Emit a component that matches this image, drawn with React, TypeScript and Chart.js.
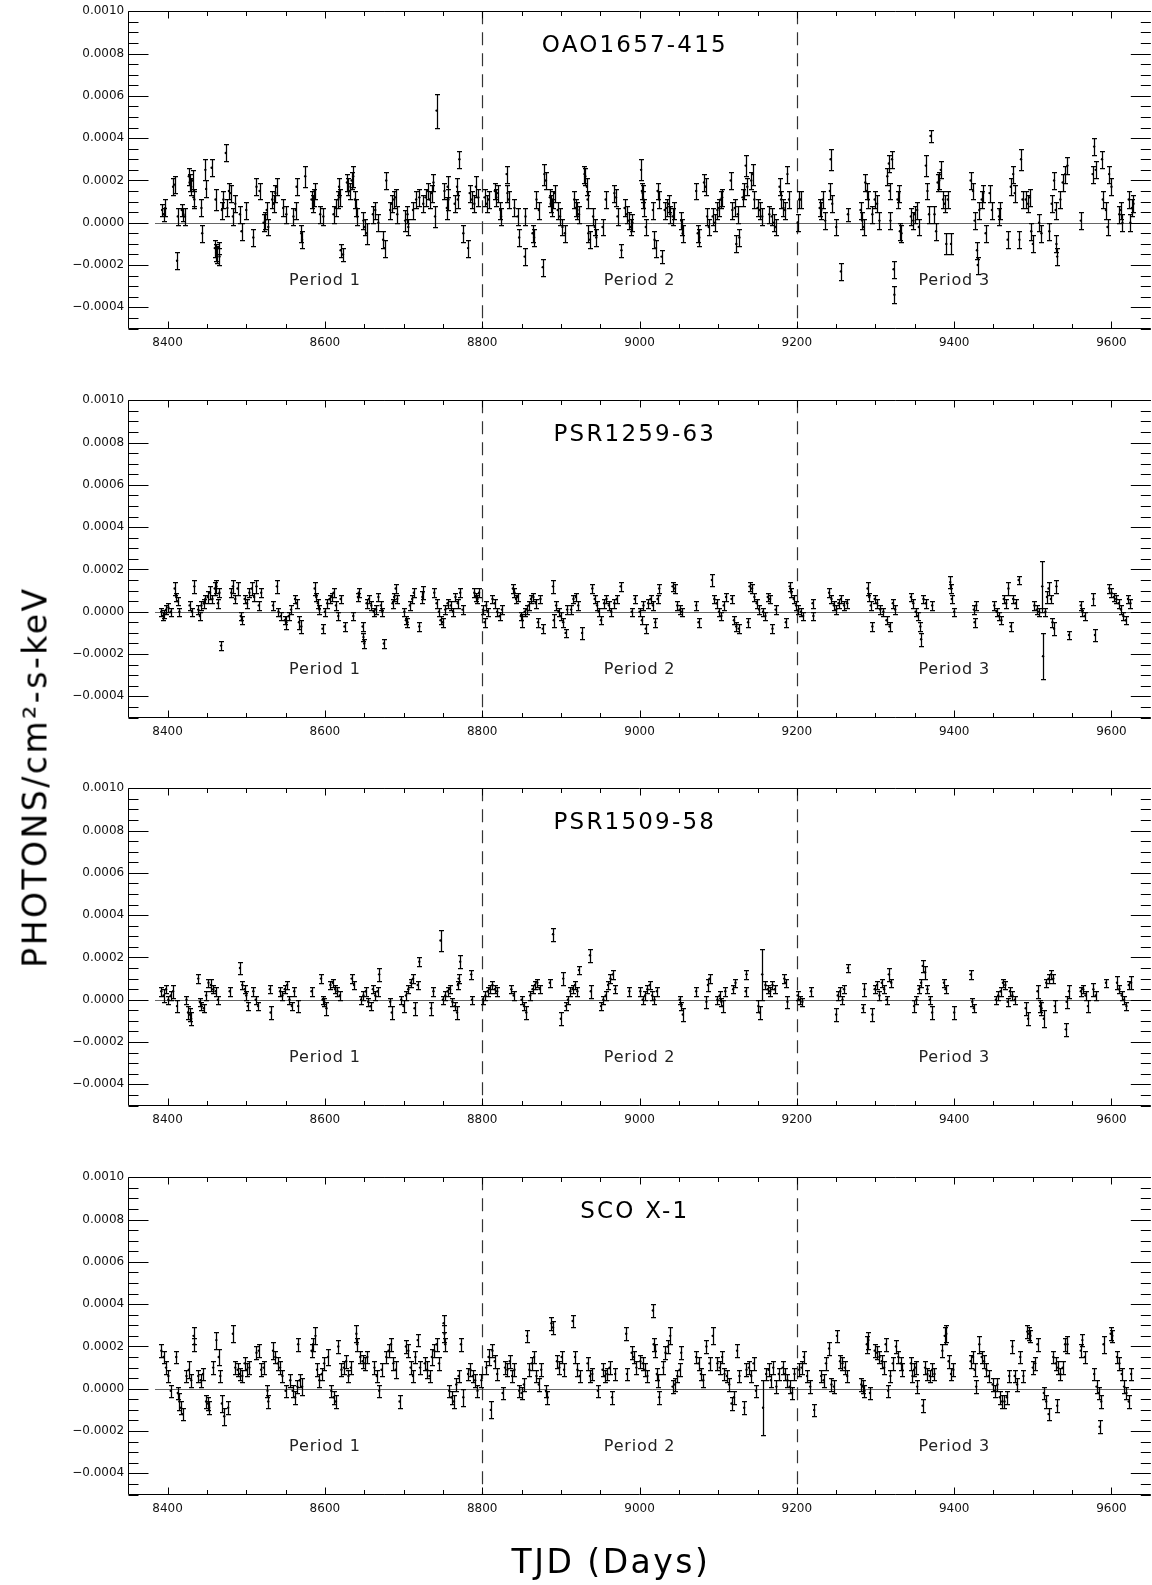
import React, { useEffect, useRef } from "react";
import { Chart, registerables } from "chart.js";

Chart.register(...registerables);

// [TJD day, flux (units of 1e-5 photons/cm^2-s-keV), 1-sigma error (same units)]
type Pt = [number, number, number];

const OAO1657_POINTS: Pt[] = [
  [8393,6,3],[8395,4,3],[8397,7,4],[8407,17,4],[8409,18,4],[8412,-18,4],[8413,3,4],
  [8418,6,3],[8420,4,3],[8422,3,4],[8427,22,4],[8428,19,4],[8430,17,4],[8432,20,5],[8433,12,4],[8434,11,4],
  [8443,7,4],[8444,-5,4],[8448,25,5],[8449,16,4],[8456,26,4],
  [8460,-12,4],[8461,11,5],[8462,-14,4],[8463,-15,4],[8465,-12,3],[8466,-16,4],[8469,6,4],[8474,33,4],
  [8471,11,4],[8476,7,4],[8478,15,4],[8480,14,4],[8483,3,4],[8486,9,4],
  [8492,4,4],[8494,-4,4],[8500,6,4],[8509,-7,4],[8513,17,4],[8517,15,4],
  [8522,0,4],[8524,1,4],[8526,6,4],[8528,-2,4],[8533,11,4],[8535,9,4],[8537,14,4],[8539,17,4],
  [8547,7,4],[8551,4,4],[8560,3,4],[8563,6,4],[8564,17,4],[8575,22,5],[8570,-5,4],[8571,-8,4],
  [8583,11,4],[8585,9,4],[8586,12,4],[8587,15,4],[8594,4,4],[8598,3,4],
  [8611,4,4],[8614,7,4],[8617,11,4],[8619,12,4],[8620,-13,3],[8623,-15,3],[8618,17,4],
  [8628,19,4],[8630,17,4],[8632,15,4],[8634,20,4],[8636,22,5],[8638,11,4],[8640,7,4],[8641,3,4],
  [8649,1,4],[8651,-2,4],[8653,-5,5],[8661,4,4],[8664,6,4],[8668,0,4],
  [8674,-8,4],[8676,-12,4],[8678,20,4],[8683,6,4],[8685,9,4],[8688,11,4],[8690,12,4],[8692,4,4],
  [8702,1,5],[8705,4,4],[8706,-2,4],[8712,6,4],[8716,11,4],[8720,12,4],
  [8725,9,4],[8728,12,4],[8731,15,4],[8733,11,4],[8736,14,4],[8738,19,4],[8740,3,5],[8742,53,8],
  [8752,15,4],[8755,7,5],[8757,11,5],[8756,17,5],[8765,9,4],[8768,17,4],[8769,11,4],[8771,30,4],
  [8776,-5,4],[8782,-12,4],[8784,14,4],[8787,11,4],[8790,9,4],[8792,17,5],[8795,12,4],
  [8803,12,4],[8806,9,4],[8808,11,4],[8816,15,4],[8818,12,4],[8820,14,4],[8823,6,4],[8824,3,4],
  [8831,23,4],[8832,14,4],[8834,11,4],[8841,7,4],[8845,3,4],[8847,-7,4],
  [8854,-16,4],[8855,3,4],[8864,-5,4],[8866,-7,4],[8869,11,4],[8872,6,4],[8877,-21,4],
  [8879,23,5],[8881,20,4],[8886,12,4],[8887,9,4],[8889,7,4],[8890,11,4],[8892,14,4],
  [8896,6,4],[8899,3,4],[8902,-2,4],[8905,-5,4],[8917,11,4],[8919,7,4],[8921,6,4],[8923,4,4],
  [8930,23,4],[8931,22,4],[8933,17,4],[8934,11,4],[8935,-5,4],[8937,-8,4],
  [8941,3,4],[8943,-2,4],[8945,-7,4],[8953,-2,4],[8957,11,4],[8968,14,4],[8970,12,4],[8972,3,4],
  [8977,-13,3],[8981,7,4],[8984,4,4],[8986,1,4],[8989,-2,4],[8991,0,4],
  [9002,25,5],[9003,15,4],[9004,14,4],[9005,11,4],[9006,7,4],[9008,-2,4],
  [9017,6,4],[9019,-8,4],[9021,-12,4],[9023,15,4],[9025,11,4],[9028,-16,3],
  [9032,6,4],[9035,7,4],[9037,9,4],[9039,4,4],[9042,3,4],[9044,6,4],[9053,1,4],[9054,-2,4],[9055,-5,4],
  [9072,15,4],[9074,-5,4],[9076,-7,4],[9082,19,4],[9084,17,4],[9086,3,4],[9088,-2,4],
  [9093,3,4],[9096,0,4],[9099,6,4],[9101,7,4],[9103,11,4],[9105,12,4],[9116,20,4],[9118,6,4],
  [9121,7,4],[9123,-10,4],[9125,4,4],[9127,-7,4],[9131,12,4],[9133,15,4],[9135,27,5],[9137,17,4],
  [9142,20,4],[9144,23,5],[9146,11,4],[9150,7,4],[9153,6,4],[9156,3,4],
  [9165,4,4],[9168,3,4],[9171,0,4],[9173,-2,4],[9178,17,4],[9180,11,4],[9183,7,4],[9185,6,4],
  [9188,23,4],[9190,11,4],[9201,0,4],[9203,11,4],[9205,11,4],
  [9229,7,4],[9231,6,4],[9233,11,4],[9236,1,4],[9243,30,5],[9242,15,4],[9245,9,4],[9250,-2,4],
  [9256,-23,4],[9265,4,3],[9281,6,4],[9283,1,4],[9285,-2,4],[9287,19,4],[9289,15,4],[9291,11,4],
  [9296,4,4],[9299,11,4],[9302,9,4],[9305,1,4],[9315,22,4],[9317,28,4],[9318,15,4],[9319,1,4],
  [9321,30,4],[9323,-22,4],[9324,-34,4],[9328,11,4],[9330,14,4],[9331,-4,4],[9333,-5,4],
  [9345,3,4],[9348,1,4],[9350,4,4],[9353,6,4],[9355,-2,4],[9364,27,5],[9366,15,4],[9368,4,4],
  [9370,41,3],[9375,4,4],[9377,-4,4],[9379,19,4],[9381,20,4],[9383,25,4],
  [9386,11,4],[9388,9,4],[9390,-10,5],[9392,11,4],[9396,-10,5],
  [9421,20,4],[9424,15,4],[9426,1,4],[9429,-13,4],[9430,-20,4],[9432,6,4],[9435,11,4],[9437,14,4],[9440,-5,4],
  [9445,14,4],[9448,6,4],[9457,3,4],[9458,6,4],[9468,-8,4],[9472,17,4],[9475,23,4],[9477,14,4],
  [9483,-8,4],[9485,30,5],[9487,11,4],[9491,11,4],[9494,9,4],[9496,12,4],[9498,-4,4],[9500,-10,4],
  [9508,0,4],[9511,-5,4],[9521,-4,4],[9524,9,4],[9527,20,4],[9529,6,4],[9530,-10,4],[9531,-16,4],
  [9535,11,4],[9538,19,4],[9541,23,4],[9544,27,4],[9561,1,4],[9576,23,4],[9578,36,4],[9580,25,4],
  [9588,30,4],[9589,11,4],[9593,6,4],[9595,-2,4],[9597,23,4],[9600,17,4],
  [9610,4,4],[9612,6,4],[9614,0,4],[9622,11,4],[9624,0,4],[9626,7,4],[9628,9,4],
];

const PSR1259_POINTS: Pt[] = [
  [8392,0,2],[8394,-2,2],[8396,-1,2],[8398,1,2],[8401,2,2],[8404,0,2],[8409,11,3],[8411,7,2],[8413,5,2],
  [8415,0,2],[8428,3,2],[8431,0,2],[8434,12,3],[8439,1,2],[8441,-2,2],[8443,3,2],[8446,4,2],
  [8448,6,2],[8451,7,3],[8454,9,3],[8457,6,2],[8460,11,3],[8462,12,3],[8464,4,2],[8466,9,2],[8468,-16,2],
  [8481,9,2],[8483,12,3],[8486,6,2],[8489,11,3],[8493,-2,2],[8494,-4,2],
  [8498,6,2],[8501,4,2],[8504,9,2],[8507,11,3],[8510,7,2],[8513,12,3],[8516,3,2],[8519,9,2],
  [8534,3,2],[8539,12,3],[8541,0,2],[8544,-2,2],[8549,-4,2],[8551,-5,3],[8554,-2,2],[8557,1,2],
  [8562,6,2],[8564,4,2],[8567,-5,3],[8570,-7,3],[8587,11,3],[8589,7,2],[8591,4,2],[8593,1,2],[8597,-8,2],
  [8600,0,2],[8603,4,2],[8606,6,2],[8609,7,2],[8611,9,2],[8614,3,2],[8617,-2,2],[8620,6,2],[8625,-7,2],
  [8636,-2,2],[8642,7,2],[8643,9,2],[8648,-7,2],[8649,-12,2],[8650,-15,2],
  [8653,4,2],[8656,6,2],[8659,3,2],[8662,0,2],[8665,1,2],[8668,7,2],[8671,3,2],[8673,0,2],[8675,-15,2],
  [8686,4,2],[8688,7,2],[8690,11,2],[8692,6,2],[8701,0,2],[8703,-4,2],[8705,-5,2],[8708,3,2],[8711,6,2],[8713,9,2],
  [8720,-7,2],[8724,7,3],[8725,9,3],[8739,9,2],[8742,4,2],[8745,0,2],[8747,-4,2],[8750,-5,2],[8753,1,2],[8756,4,2],
  [8760,3,2],[8763,0,2],[8766,7,2],[8769,4,2],[8772,9,2],[8775,1,2],[8790,9,2],[8792,7,2],[8794,6,2],[8796,9,2],
  [8801,1,2],[8803,-5,2],[8805,3,2],[8807,0,2],[8813,6,2],[8816,4,2],[8819,0,2],[8822,-2,2],[8825,1,2],
  [8839,11,2],[8841,9,2],[8843,6,2],[8845,7,2],[8849,-2,2],[8851,-4,3],[8854,0,2],[8857,1,2],
  [8859,3,2],[8862,6,2],[8865,7,2],[8868,4,2],[8871,-5,2],[8874,6,2],[8877,-8,2],[8890,12,3],[8891,-4,3],
  [8894,3,2],[8897,0,2],[8900,-2,2],[8903,-5,2],[8906,-10,2],[8908,1,2],[8913,1,2],[8916,6,2],[8919,7,2],[8922,3,2],[8927,-10,3],
  [8940,11,2],[8943,6,2],[8946,3,2],[8948,0,2],[8951,-4,2],[8955,4,2],[8958,6,2],[8961,3,2],[8964,0,2],[8968,4,2],[8971,6,2],[8976,12,2],
  [8990,0,2],[8994,6,2],
  [9000,0,2],[9003,-4,2],[9005,3,2],[9008,-8,2],[9011,4,2],[9014,6,2],[9017,3,2],[9020,-5,2],[9023,6,2],[9025,11,2],
  [9042,12,2],[9045,11,2],[9048,3,2],[9051,1,2],[9054,0,2],[9072,3,2],[9075,-5,2],
  [9092,15,3],[9095,6,2],[9098,4,2],[9101,0,2],[9104,-2,2],[9107,3,2],[9110,7,2],[9117,6,2],[9120,-4,2],[9123,-7,2],[9126,-8,2],
  [9138,-5,2],[9140,12,2],[9143,11,2],[9146,7,2],[9149,4,2],[9152,1,2],[9157,0,2],[9160,-2,2],[9163,7,2],[9166,6,2],[9169,-8,2],[9173,1,2],
  [9186,-5,2],[9191,12,2],[9193,9,2],[9196,6,2],[9199,3,2],[9202,1,2],[9205,0,2],[9208,-2,2],[9220,4,2],[9221,-2,2],
  [9241,9,2],[9244,6,2],[9247,3,2],[9250,1,2],[9253,4,2],[9256,6,2],[9260,3,2],[9264,4,2],
  [9290,11,3],[9292,7,2],[9294,3,2],[9296,-7,2],[9299,6,2],[9302,4,2],[9306,1,2],[9310,0,2],[9314,-4,2],[9318,-7,2],[9322,4,2],[9325,1,2],
  [9345,7,2],[9348,4,2],[9351,0,2],[9354,-2,2],[9357,-7,2],[9358,-13,3],[9361,6,2],[9364,4,2],[9372,3,2],
  [9395,14,3],[9396,11,2],[9397,6,2],[9400,0,2],[9425,1,2],[9426,-5,2],[9428,3,2],
  [9451,3,2],[9454,0,2],[9457,-2,2],[9460,-4,2],[9463,6,2],[9466,4,2],[9469,11,3],[9472,-7,2],[9475,6,2],[9478,4,2],[9482,15,2],
  [9502,3,2],[9505,1,2],[9508,0,2],[9512,12,12],[9513,-21,11],[9516,0,2],[9518,7,3],[9520,11,3],[9523,6,2],[9525,-5,2],[9527,-8,3],[9530,12,3],
  [9546,-11,2],[9561,3,2],[9563,0,2],[9566,-2,2],[9577,6,3],[9579,-11,3],
  [9597,11,2],[9600,9,2],[9603,7,2],[9606,6,2],[9609,4,2],[9612,1,2],[9615,-2,2],[9618,-4,2],[9621,6,2],[9624,4,2],
];

const PSR1509_POINTS: Pt[] = [
  [8392,4,2],[8395,2,3],[8398,5,2],[8401,0,2],[8404,2,2],[8407,4,3],[8412,-3,3],
  [8424,0,2],[8426,-6,3],[8428,-7,3],[8430,-9,3],[8439,10,2],[8441,-1,2],[8443,-3,2],[8446,-4,2],[8449,2,2],
  [8452,8,2],[8455,7,3],[8458,5,2],[8461,4,2],[8464,0,2],[8479,4,2],[8492,15,3],
  [8495,7,2],[8498,5,2],[8500,2,2],[8502,-3,2],[8509,4,2],[8512,0,2],[8515,-3,2],[8530,5,2],[8531,-6,3],
  [8543,4,2],[8546,2,2],[8549,5,2],[8552,7,2],[8555,0,2],[8558,-3,2],[8561,4,2],[8566,-3,3],[8583,4,2],
  [8595,10,2],[8597,0,2],[8599,-1,2],[8602,-4,3],[8607,7,2],[8610,8,2],[8613,5,2],[8616,4,2],[8619,2,2],
  [8634,10,2],[8637,7,2],[8646,0,2],[8649,2,2],[8652,4,2],[8655,-1,2],[8658,-3,2],[8661,5,2],[8664,2,2],[8667,4,2],
  [8669,12,3],[8683,-1,2],[8685,-6,3],[8697,0,2],[8700,-3,3],[8703,2,2],[8706,5,2],[8709,8,2],[8712,10,2],[8714,-4,3],
  [8718,7,2],[8720,18,2],[8735,-4,3],[8738,4,2],[8747,28,5],
  [8750,0,2],[8753,2,2],[8756,4,2],[8759,5,2],[8762,-1,2],[8765,-3,2],[8768,-6,3],[8769,7,2],[8770,10,2],[8772,18,3],
  [8786,12,2],[8787,0,2],[8801,0,2],[8804,2,2],[8807,4,2],[8810,5,2],[8813,7,2],[8816,5,2],[8819,4,2],
  [8837,5,2],[8840,2,2],[8850,0,2],[8853,-3,2],[8856,-6,3],[8861,2,2],[8864,5,2],[8867,7,2],[8870,8,2],[8873,5,2],
  [8886,8,2],[8890,31,3],[8900,-9,3],[8903,10,3],[8906,-3,2],[8909,0,2],[8912,4,2],[8915,5,2],[8918,7,2],[8921,4,2],
  [8923,14,2],[8937,21,3],[8938,4,3],[8951,-3,2],[8954,0,2],[8957,2,2],[8960,7,2],[8963,10,2],[8966,12,2],[8969,5,2],[8987,4,2],
  [9001,4,2],[9004,0,2],[9007,2,2],[9010,5,2],[9013,7,2],[9016,2,2],[9019,0,2],[9022,4,2],
  [9051,0,2],[9053,-3,2],[9055,-7,3],[9072,4,2],[9085,-1,3],[9087,7,3],[9089,10,2],
  [9099,0,2],[9102,2,2],[9104,-1,2],[9106,-3,3],[9109,4,2],[9119,5,2],[9122,8,2],[9135,4,2],[9136,12,2],
  [9151,-3,3],[9153,-6,3],[9156,12,12],[9160,7,2],[9163,5,2],[9166,4,2],[9169,7,2],[9172,5,2],
  [9184,10,2],[9186,8,2],[9188,-1,3],[9201,2,2],[9204,0,2],[9207,-1,2],[9218,4,2],
  [9250,-7,3],[9252,2,2],[9255,4,2],[9258,0,2],[9260,5,2],[9265,15,2],[9284,-4,2],[9286,5,3],[9296,-7,3],
  [9299,5,2],[9302,7,2],[9305,2,2],[9308,8,2],[9311,5,2],[9314,0,2],[9317,12,3],[9320,8,2],
  [9349,-3,3],[9352,0,2],[9355,5,2],[9358,8,2],[9360,16,3],[9363,13,3],[9366,5,2],[9369,0,2],[9372,-6,3],
  [9387,8,2],[9389,5,2],[9400,-6,3],[9421,12,2],[9423,-1,2],[9425,-4,2],
  [9453,0,2],[9456,2,2],[9459,4,2],[9462,8,2],[9465,7,2],[9468,-1,2],[9471,4,2],[9474,2,2],[9477,0,2],
  [9491,-4,3],[9494,-9,3],[9506,4,3],[9509,-3,3],[9511,-4,3],[9514,-9,4],
  [9517,8,2],[9520,10,2],[9523,12,2],[9526,10,2],[9528,-3,3],[9542,-14,3],[9543,-1,3],[9546,4,3],
  [9561,4,2],[9564,5,2],[9567,2,2],[9570,-3,3],[9577,5,3],[9580,2,2],[9593,8,2],
  [9607,8,3],[9610,5,2],[9613,2,2],[9616,0,2],[9619,-3,2],[9622,7,2],[9625,8,3],
];

const SCOX1_POINTS: Pt[] = [
  [8392,18,3],[8395,15,3],[8398,10,3],[8401,6,3],[8404,-1,3],[8411,15,3],[8413,-2,3],[8415,-6,4],[8417,-9,3],[8419,-12,3],
  [8424,6,3],[8427,9,4],[8430,4,3],[8433,25,4],[8434,21,3],[8439,6,3],[8442,4,3],[8445,7,3],
  [8449,-6,3],[8451,-7,3],[8453,-9,3],[8458,10,3],[8462,23,4],[8465,15,4],[8467,6,3],[8469,-7,4],[8472,-13,4],[8477,-9,3],
  [8483,26,4],[8486,10,3],[8489,9,3],[8492,7,3],[8495,6,3],[8498,12,3],[8501,9,3],[8504,10,3],
  [8513,17,3],[8516,18,3],[8519,9,3],[8522,10,3],[8527,-1,3],[8528,-6,3],
  [8534,18,4],[8537,15,3],[8540,12,3],[8543,10,3],[8546,6,3],[8550,-1,3],[8556,4,3],[8559,-1,3],[8562,-4,3],[8565,1,3],[8566,21,3],[8568,4,3],[8571,1,4],
  [8583,18,3],[8585,21,3],[8588,25,4],[8590,9,3],[8593,4,3],[8596,7,3],[8599,12,3],[8604,15,4],
  [8608,-1,3],[8611,-4,3],[8614,-6,3],[8617,20,3],[8621,9,3],[8624,10,3],[8627,13,3],[8630,6,3],[8633,10,3],
  [8640,26,4],[8641,21,3],[8645,15,3],[8648,13,3],[8651,12,3],[8654,15,3],[8663,10,3],[8666,6,3],[8669,-1,3],[8672,9,3],
  [8678,15,3],[8681,18,3],[8684,21,3],[8687,12,3],[8690,9,4],[8695,-6,3],
  [8703,20,3],[8706,18,3],[8709,10,3],[8712,6,3],[8715,15,3],[8718,23,3],[8721,10,3],
  [8727,12,3],[8730,9,4],[8733,6,3],[8736,15,4],[8739,18,3],[8742,21,3],[8745,12,3],[8751,31,4],[8752,26,4],[8753,21,3],
  [8758,-1,3],[8761,-4,3],[8764,-6,3],[8767,2,3],[8770,6,3],[8773,21,3],[8776,-4,4],
  [8782,7,3],[8785,9,3],[8788,6,3],[8791,4,3],[8794,-1,3],[8799,4,3],
  [8805,10,3],[8808,15,4],[8811,-10,4],[8813,18,3],[8816,13,3],[8819,7,3],[8826,-2,3],
  [8829,10,3],[8832,9,3],[8835,13,3],[8838,6,3],[8841,9,3],[8847,-1,3],[8850,-2,3],[8853,2,3],[8857,25,3],
  [8860,9,3],[8863,12,3],[8866,15,3],[8869,6,3],[8872,2,3],[8875,9,3],[8881,-1,3],[8883,-4,3],[8888,31,3],[8890,29,3],
  [8895,13,3],[8898,10,3],[8901,15,3],[8904,9,3],[8915,32,3],[8918,15,3],[8921,9,3],[8924,6,3],
  [8934,12,3],[8937,6,3],[8940,7,3],[8947,-1,3],[8953,9,3],[8956,6,3],[8959,7,3],[8962,10,3],[8965,-4,3],[8969,7,3],
  [8983,26,3],[8984,7,3],[8990,17,3],[8993,15,3],[8996,10,3],
  [9001,13,3],[9004,12,3],[9007,9,3],[9010,6,3],[9017,37,3],[9018,21,3],[9020,18,3],[9022,7,3],[9024,4,3],[9025,-4,3],
  [9030,10,3],[9033,17,3],[9036,20,3],[9039,25,4],[9042,1,3],[9045,2,3],[9048,6,3],[9051,9,3],[9053,17,3],
  [9072,15,3],[9075,12,3],[9078,7,3],[9081,4,3],[9085,20,3],[9089,12,3],[9093,25,4],
  [9099,12,3],[9102,10,3],[9105,15,3],[9108,7,3],[9111,6,3],[9114,2,3],[9117,-7,3],[9120,-4,3],[9124,18,3],[9127,6,3],[9133,-9,3],
  [9136,9,3],[9139,10,3],[9142,6,3],[9145,12,3],[9148,-1,3],[9157,-9,13],
  [9161,7,3],[9164,9,3],[9167,4,3],[9170,10,3],[9174,1,3],[9177,7,3],
  [9182,10,3],[9185,7,3],[9188,4,3],[9191,1,3],[9194,-2,3],[9197,7,3],
  [9203,9,3],[9206,10,3],[9209,15,3],[9213,6,3],[9217,1,3],[9222,-10,3],[9231,6,3],[9234,4,3],[9237,12,3],[9241,19,3],
  [9244,2,3],[9247,1,3],[9251,25,3],[9255,13,3],[9258,12,3],[9261,10,3],[9264,6,3],
  [9282,2,3],[9284,1,3],[9286,-1,3],[9289,21,4],[9291,23,4],[9293,-2,3],
  [9299,18,3],[9302,17,3],[9305,15,3],[9308,13,3],[9311,10,3],[9313,21,3],[9316,-1,3],[9319,6,3],[9322,12,3],
  [9326,20,3],[9329,15,3],[9332,12,3],[9334,9,3],[9345,12,3],[9347,6,3],[9349,9,3],[9351,10,3],[9353,1,3],[9360,-8,3],
  [9363,10,3],[9366,7,3],[9369,6,3],[9372,9,3],[9375,7,3],
  [9385,18,3],[9388,25,4],[9390,26,4],[9393,13,3],[9396,7,3],[9399,9,3],
  [9421,13,3],[9424,15,3],[9426,9,3],[9428,1,3],[9432,21,4],[9435,15,3],[9438,13,3],[9441,9,3],[9444,6,3],
  [9449,2,3],[9452,-1,3],[9455,2,3],[9458,-4,3],[9461,-6,3],[9464,-6,3],[9467,-4,3],[9470,6,3],
  [9474,20,3],[9477,6,3],[9480,2,3],[9484,15,3],[9488,6,3],[9493,27,3],[9495,26,3],[9497,25,3],
  [9500,10,3],[9503,12,3],[9506,21,3],[9514,-2,3],[9517,-6,3],[9520,-12,3],
  [9526,15,3],[9529,12,3],[9531,-8,3],[9532,10,3],[9535,7,3],[9538,10,3],[9541,21,3],[9544,21,4],
  [9561,18,3],[9563,23,3],[9566,15,3],[9578,7,3],[9581,1,3],[9584,-2,3],[9585,-18,3],[9587,-6,3],[9590,21,4],
  [9599,26,3],[9601,25,3],[9607,15,3],[9610,12,3],[9613,7,3],[9616,1,3],[9619,-2,3],[9622,-6,3],[9625,7,3],
];

const PANEL_TITLES = ["OAO1657-415", "PSR1259-63", "PSR1509-58", "SCO X-1"];
const PANEL_POINTS = [OAO1657_POINTS, PSR1259_POINTS, PSR1509_POINTS, SCOX1_POINTS];
const X_TICKS = [8400, 8600, 8800, 9000, 9200, 9400, 9600];
const Y_TICKS = [-40, -20, 0, 20, 40, 60, 80, 100]; // 1e-5 units
const PERIOD_BOUNDARIES = [8800, 9200];
const PERIOD_LABELS = ["Period 1", "Period 2", "Period 3"];
const PERIOD_LABEL_DAYS = [8600, 9000, 9400];
const PERIOD_LABEL_FLUX = -27.5;
const TITLE_DAY = 8994;
const ZERO_LINE_START = 8384;
const X_MIN = 8350;
const X_MAX = 9650;
const Y_MIN = -50;
const Y_MAX = 100;

const FONT = "'DejaVu Sans', 'Liberation Sans', sans-serif";
const CANVAS_W = 1152;
const CANVAS_H = 389;
const PANEL_TOPS = [0, 389, 777, 1166];

function fmtY(v: number): string {
  if (v === 0) return "0.0000";
  const s = (Math.abs(v) / 1e5).toFixed(4);
  return v < 0 ? "\u2212" + s : s;
}

const decorPlugin = {
  id: "decor",
  beforeDatasetsDraw(chart: any, _args: any, opts: any) {
    const { ctx, chartArea: ca, scales } = chart;
    const xs = scales.x;
    const ys = scales.y;
    ctx.save();
    // zero reference line
    ctx.strokeStyle = "#666";
    ctx.lineWidth = 1;
    const y0 = Math.round(ys.getPixelForValue(0)) + 0.5;
    ctx.beginPath();
    ctx.moveTo(xs.getPixelForValue(ZERO_LINE_START), y0);
    ctx.lineTo(ca.right, y0);
    ctx.stroke();
    // period boundaries
    ctx.setLineDash([13, 8]);
    ctx.strokeStyle = "#333";
    ctx.lineWidth = 1.2;
    for (const d of PERIOD_BOUNDARIES) {
      const x = Math.round(xs.getPixelForValue(d)) + 0.5;
      ctx.beginPath();
      ctx.moveTo(x, ca.top);
      ctx.lineTo(x, ca.bottom);
      ctx.stroke();
    }
    ctx.setLineDash([]);
    // period labels
    ctx.fillStyle = "#222";
    ctx.textAlign = "center";
    ctx.textBaseline = "middle";
    ctx.font = `16px ${FONT}`;
    ctx.letterSpacing = "0.8px";
    PERIOD_LABELS.forEach((t, i) => {
      ctx.fillText(t, xs.getPixelForValue(PERIOD_LABEL_DAYS[i]), ys.getPixelForValue(PERIOD_LABEL_FLUX));
    });
    // title
    ctx.fillStyle = "#000";
    ctx.font = `23px ${FONT}`;
    ctx.letterSpacing = "2.2px";
    ctx.fillText(opts.title, xs.getPixelForValue(TITLE_DAY), ca.top + 35);
    ctx.letterSpacing = "0px";
    ctx.restore();
  },
  afterDatasetsDraw(chart: any) {
    const { ctx, chartArea: ca, scales } = chart;
    const xs = scales.x;
    const ys = scales.y;
    const ds = chart.data.datasets[0];
    const errs: number[] = ds.errors;
    ctx.save();
    ctx.beginPath();
    ctx.rect(ca.left, ca.top, ca.right - ca.left, ca.bottom - ca.top);
    ctx.clip();
    ctx.strokeStyle = "#000";
    ctx.lineWidth = 1.25;
    ctx.beginPath();
    ds.data.forEach((p: any, i: number) => {
      const x = Math.round(xs.getPixelForValue(p.x)) + 0.5;
      const yt = Math.round(ys.getPixelForValue(p.y + errs[i])) + 0.5;
      const yb = Math.round(ys.getPixelForValue(p.y - errs[i])) + 0.5;
      ctx.moveTo(x, yt);
      ctx.lineTo(x, yb);
      ctx.moveTo(x - 2.5, yt);
      ctx.lineTo(x + 2.5, yt);
      ctx.moveTo(x - 2.5, yb);
      ctx.lineTo(x + 2.5, yb);
    });
    ctx.stroke();
    ctx.restore();
  },
  afterDraw(chart: any) {
    const { ctx, chartArea: ca, scales } = chart;
    const xs = scales.x;
    const ys = scales.y;
    ctx.save();
    ctx.strokeStyle = "#000";
    ctx.lineWidth = 1;
    const L = Math.round(ca.left) + 0.5;
    const T = Math.round(ca.top) + 0.5;
    const B = Math.round(ca.bottom) - 0.5;
    const R = ca.right;
    ctx.beginPath();
    ctx.moveTo(L, T);
    ctx.lineTo(R, T);
    ctx.moveTo(L, T);
    ctx.lineTo(L, B);
    ctx.lineTo(R, B);
    // y ticks (left and right)
    for (let v = Y_MIN; v <= Y_MAX; v += 5) {
      const y = Math.round(ys.getPixelForValue(v)) + 0.5;
      const len = v % 20 === 0 ? 20 : 10;
      ctx.moveTo(L, y);
      ctx.lineTo(L + len, y);
      ctx.moveTo(R, y);
      ctx.lineTo(R - len, y);
    }
    // x ticks (top and bottom)
    for (let d = 8400; d <= 9600; d += 50) {
      const x = Math.round(xs.getPixelForValue(d)) + 0.5;
      const len = d % 200 === 0 ? 7 : 4.5;
      ctx.moveTo(x, B);
      ctx.lineTo(x, B - len);
      ctx.moveTo(x, T);
      ctx.lineTo(x, T + len);
    }
    ctx.stroke();
    ctx.restore();
  },
};

function makeConfig(title: string, points: Pt[]): any {
  return {
    type: "scatter",
    data: {
      datasets: [
        {
          data: points.map((p) => ({ x: p[0], y: p[1] })),
          errors: points.map((p) => p[2]),
          pointRadius: 1.2,
          pointHoverRadius: 1.2,
          pointBackgroundColor: "#000",
          pointBorderWidth: 0,
          showLine: false,
        },
      ],
    },
    options: {
      responsive: false,
      animation: false,
      events: [],
      layout: { padding: { top: 11, left: 0, right: 0, bottom: 0 } },
      plugins: {
        legend: { display: false },
        tooltip: { enabled: false },
        decor: { title },
      },
      scales: {
        x: {
          type: "linear",
          min: X_MIN,
          max: X_MAX,
          afterBuildTicks: (s: any) => {
            s.ticks = X_TICKS.map((value) => ({ value }));
          },
          afterFit: (s: any) => {
            s.height = 60.5;
          },
          grid: { display: false, drawTicks: false },
          border: { display: false },
          ticks: {
            padding: 7,
            autoSkip: false,
            maxRotation: 0,
            color: "#111",
            font: { family: FONT, size: 12 },
            callback: (v: any) => String(v),
          },
        },
        y: {
          type: "linear",
          min: Y_MIN,
          max: Y_MAX,
          afterBuildTicks: (s: any) => {
            s.ticks = Y_TICKS.map((value) => ({ value }));
          },
          afterFit: (s: any) => {
            s.width = 128.25;
          },
          grid: { display: false, drawTicks: false },
          border: { display: false },
          ticks: {
            padding: 4,
            autoSkip: false,
            color: "#111",
            font: { family: FONT, size: 12 },
            callback: (v: any) => fmtY(Number(v)),
          },
        },
      },
    },
    plugins: [decorPlugin],
  };
}

export default function App() {
  const refs = [
    useRef<HTMLCanvasElement>(null),
    useRef<HTMLCanvasElement>(null),
    useRef<HTMLCanvasElement>(null),
    useRef<HTMLCanvasElement>(null),
  ];

  useEffect(() => {
    const charts: Chart[] = [];
    refs.forEach((r, i) => {
      if (r.current) {
        charts.push(new Chart(r.current, makeConfig(PANEL_TITLES[i], PANEL_POINTS[i])));
      }
    });
    return () => charts.forEach((c) => c.destroy());
  }, []);

  return (
    <div
      style={{
        position: "absolute",
        left: 0,
        top: 0,
        width: CANVAS_W,
        height: 1585,
        background: "#fff",
        overflow: "hidden",
      }}
    >
      {refs.map((r, i) => (
        <canvas
          key={i}
          ref={r}
          width={CANVAS_W}
          height={CANVAS_H}
          style={{ position: "absolute", left: 0, top: PANEL_TOPS[i], width: CANVAS_W, height: CANVAS_H }}
        />
      ))}
      <div
        style={{
          position: "absolute",
          left: 35,
          top: 777,
          transform: "translate(-50%, -50%) rotate(-90deg)",
          whiteSpace: "nowrap",
          font: `33px ${FONT}`,
          letterSpacing: "2.5px",
          color: "#000",
        }}
      >
        PHOTONS/cm²-s-keV
      </div>
      <div
        style={{
          position: "absolute",
          left: 611,
          top: 1561,
          transform: "translate(-50%, -50%)",
          whiteSpace: "nowrap",
          font: `33px ${FONT}`,
          letterSpacing: "2.5px",
          color: "#000",
        }}
      >
        TJD (Days)
      </div>
    </div>
  );
}
